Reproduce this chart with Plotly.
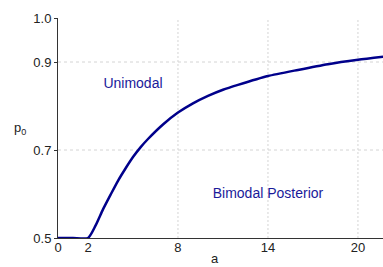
import plotly.graph_objects as go

# Data
a_vals = [0, 1, 2, 2.5, 3, 3.5, 4, 4.5, 5, 5.5, 6, 7, 8, 9, 10, 11, 12, 14, 16, 18, 20, 21.7]
p0_vals = [0.5, 0.5, 0.5, 0.528, 0.565, 0.598, 0.630, 0.658, 0.684, 0.706, 0.725, 0.758,
           0.785, 0.806, 0.823, 0.837, 0.848, 0.868, 0.882, 0.895, 0.905, 0.912]

x_ticks = [0, 2, 8, 14, 20]
y_ticks = [0.5, 0.7, 0.9, 1.0]
x_grid = [8, 14, 20]
y_grid = [0.7, 0.9]

labels = ["Unimodal", "Bimodal Posterior"]
label_x = [5.0, 14.0]
label_y = [0.848, 0.598]

FONT = "Liberation Sans, Arial, Helvetica, sans-serif"
LINE = "#00008B"
TXT = "#1a1a9a"

fig = go.Figure()
fig.add_trace(go.Scatter(x=a_vals, y=p0_vals, mode="lines",
                         line=dict(color=LINE, width=2.5, shape="spline", smoothing=0.6),
                         hoverinfo="skip", showlegend=False))
fig.add_trace(go.Scatter(x=label_x, y=label_y, mode="text", text=labels,
                         textfont=dict(family=FONT, size=14, color=TXT),
                         textposition="middle center", showlegend=False, hoverinfo="skip"))

shapes = []
for v in x_grid:
    shapes.append(dict(type="line", xref="x", yref="paper", x0=v, x1=v, y0=0, y1=1,
                       line=dict(color="#d4d4d4", width=1, dash="2px,2px"), layer="below"))
for v in y_grid:
    shapes.append(dict(type="line", xref="paper", yref="y", x0=0, x1=1, y0=v, y1=v,
                       line=dict(color="#d4d4d4", width=1, dash="3px,3px"), layer="below"))

fig.update_layout(
    width=383, height=267,
    margin=dict(l=58, r=0, t=18, b=29),
    paper_bgcolor="white", plot_bgcolor="white",
    font=dict(family=FONT, size=13, color="#222222"),
    shapes=shapes,
    xaxis=dict(range=[0, 21.67], tickvals=x_ticks, ticktext=[str(t) for t in x_ticks],
               showgrid=False, zeroline=False, showline=True, linecolor="#333333", linewidth=1,
               ticks="", ticklabelstandoff=-3, automargin=False),
    yaxis=dict(range=[0.5, 1.0], tickvals=y_ticks, ticktext=["0.5", "0.7", "0.9", "1.0"],
               showgrid=False, zeroline=False, showline=True, linecolor="#333333", linewidth=1,
               ticks="outside", ticklen=3, tickcolor="#333333", automargin=False),
    annotations=[
        dict(text="p<sub>0</sub>", xref="paper", yref="paper", x=-0.117, y=0.5,
             xanchor="center", yanchor="middle", showarrow=False,
             font=dict(size=13, color="#222222")),
        dict(text="a", xref="paper", yref="paper", x=0.483, y=-0.091,
             xanchor="center", yanchor="middle", showarrow=False,
             font=dict(size=13, color="#222222")),
    ],
)

fig.write_html("out.html", config={"displayModeBar": False},
               post_script="document.body.style.margin='0';document.body.style.overflow='hidden';")
